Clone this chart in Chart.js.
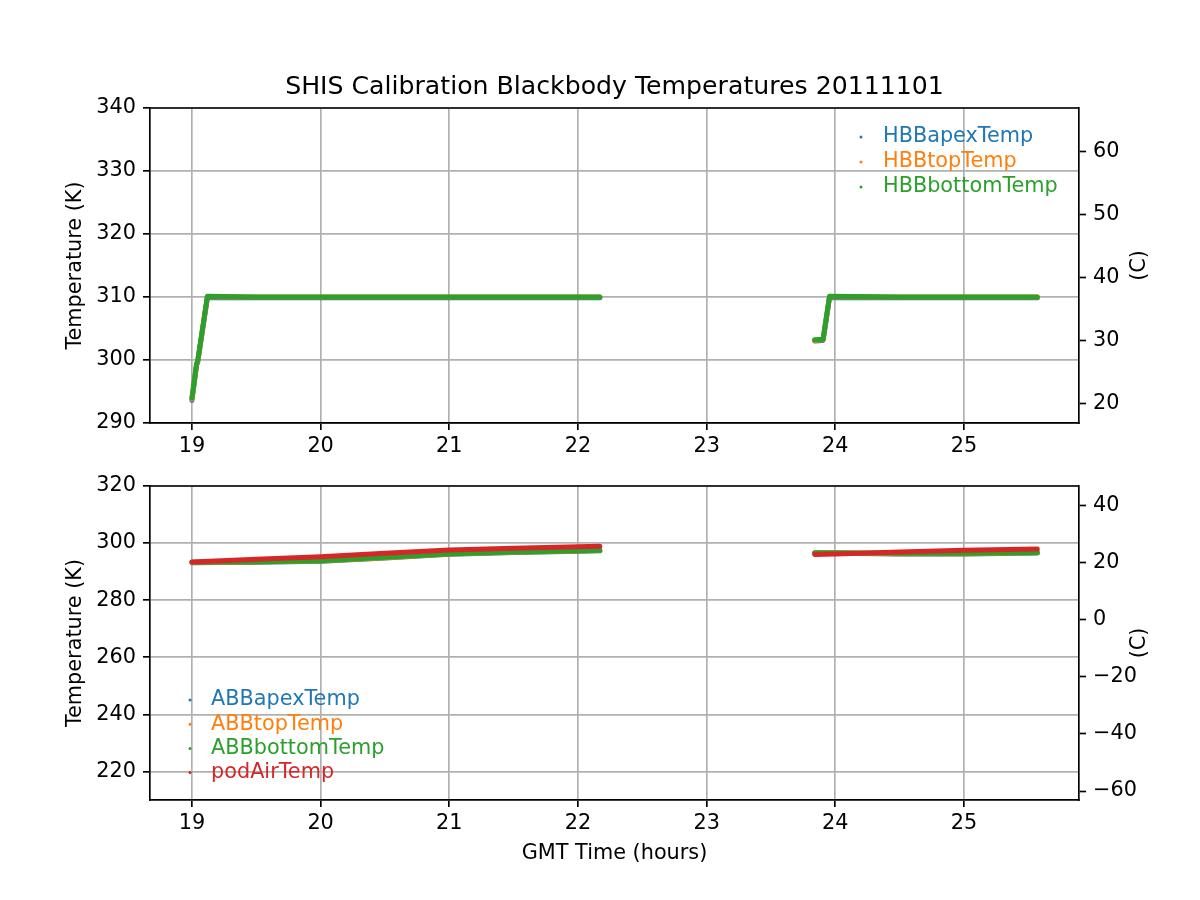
<!DOCTYPE html>
<html><head><meta charset="utf-8">
<script src="https://cdn.jsdelivr.net/npm/chart.js@4.4.0/dist/chart.umd.min.js"></script>
<style>
body{margin:0;background:#fff;width:1200px;height:900px;position:relative;overflow:hidden}
canvas{position:absolute;left:0}
</style></head>
<body>
<canvas id="topChart" width="1200" height="460" style="top:0"></canvas>
<canvas id="botChart" width="1200" height="440" style="top:460px"></canvas>
<script>
const chartTitle = 'SHIS Calibration Blackbody Temperatures 20111101';
const xLabel = 'GMT Time (hours)';
const yLabelK = 'Temperature (K)';
const yLabelC = '(C)';
const xTicks = [19, 20, 21, 22, 23, 24, 25];

// Upper panel: hot blackbody
const hbbLabels = ['HBBapexTemp', 'HBBtopTemp', 'HBBbottomTemp'];
const hbbTime   = [19.000, 19.036, 19.045, 19.120, 19.500, 20.000, 20.500, 21.000, 21.500, 22.000, 22.170, 23.000, 23.840, 23.905, 23.955, 24.500, 25.000, 25.570];
const hbbApex   = [293.6, 299.2, 299.7, 309.9, 309.9, 309.9, 309.9, 309.9, 309.9, 309.9, 309.9, null, 303.0, 303.1, 309.9, 309.9, 309.9, 309.9];
const hbbTop    = [293.8, 299.3, 299.8, 310.0, 310.0, 310.0, 310.0, 310.0, 310.0, 310.0, 310.0, null, 303.1, 303.2, 310.0, 310.0, 310.0, 310.0];
const hbbBottom = [294.0, 299.4, 299.9, 310.1, 310.0, 310.0, 310.0, 310.0, 310.0, 310.0, 310.0, null, 303.2, 303.3, 310.1, 310.0, 310.0, 310.0];

// Lower panel: ambient blackbody and pod air
const abbLabels = ['ABBapexTemp', 'ABBtopTemp', 'ABBbottomTemp', 'podAirTemp'];
const abbTime   = [19.00, 19.50, 20.00, 20.50, 21.00, 21.50, 22.00, 22.17, 23.00, 23.84, 24.00, 24.50, 25.00, 25.57];
const abbApex   = [293.1, 293.3, 293.6, 294.8, 296.1, 296.7, 297.1, 297.3, null, 296.4, 296.4, 296.2, 296.2, 296.5];
const abbTop    = [293.2, 293.4, 293.7, 294.9, 296.2, 296.8, 297.2, 297.4, null, 296.5, 296.5, 296.3, 296.3, 296.6];
const abbBottom = [293.3, 293.5, 293.8, 295.0, 296.3, 296.9, 297.3, 297.5, null, 296.6, 296.6, 296.4, 296.4, 296.7];
const podAir    = [293.4, 294.3, 295.2, 296.4, 297.6, 298.2, 298.7, 298.9, null, 296.0, 296.2, 296.9, 297.5, 297.9];

const colors = ['#1f77b4', '#ff7f0e', '#2ca02c', '#d62728'];
const FONT = '"DejaVu Sans"';
const FS = 20.8;
Chart.defaults.font.family = FONT;
Chart.defaults.font.size = FS;
Chart.defaults.color = '#000';

function pts(t, v) { return t.map((x, i) => ({x: x, y: v[i]})); }
function ds(label, t, v, i, n) {
  return {label: label, data: pts(t, v), borderColor: colors[i], backgroundColor: colors[i],
    borderWidth: 5, pointRadius: 0, tension: 0, spanGaps: false,
    borderCapStyle: 'round', borderJoinStyle: 'round', order: n - i};
}

const decor = {
  id: 'decor',
  afterDraw(chart, args, o) {
    const {ctx, chartArea: a} = chart;
    ctx.save();
    ctx.strokeStyle = '#000'; ctx.lineWidth = 1.67;
    ctx.beginPath(); ctx.moveTo(a.left, a.top); ctx.lineTo(a.right, a.top); ctx.stroke();
    ctx.font = FS + 'px ' + FONT;
    ctx.fillStyle = '#000';
    ctx.save();
    ctx.translate(1140, (a.top + a.bottom) / 2);
    ctx.rotate(-Math.PI / 2);
    ctx.textAlign = 'center'; ctx.textBaseline = 'middle';
    ctx.fillText(yLabelC, 0, 0);
    ctx.restore();
    ctx.textAlign = 'left'; ctx.textBaseline = 'middle';
    chart.data.datasets.forEach((d, i) => {
      const y = o.legendY + i * o.rowH;
      ctx.fillStyle = d.borderColor;
      ctx.beginPath(); ctx.arc(o.dotX, y, 1.5, 0, Math.PI * 2); ctx.fill();
      ctx.fillText(d.label, o.textX, y);
    });
    if (o.title) {
      ctx.fillStyle = '#000';
      ctx.font = '25.2px ' + FONT;
      ctx.textAlign = 'center';
      ctx.fillText(o.title, (a.left + a.right) / 2, 87);
    }
    ctx.restore();
  }
};

function minus(v) { return String(v).replace('-', '\u2212'); }
function stepTicks(s, step) {
  const out = [];
  for (let v = Math.ceil(s.min / step) * step; v <= s.max + 1e-9; v += step) out.push({value: Math.round(v * 1000) / 1000});
  s.ticks = out;
}

function makeChart(id, datasets, cfg) {
  const gridCommon = {color: '#b0b0b0', lineWidth: 1.67, tickLength: 7, tickColor: '#000', tickWidth: 1.67};
  const border = {color: '#000', width: 1.67};
  return new Chart(document.getElementById(id), {
    type: 'line',
    data: {datasets: datasets},
    plugins: [decor],
    options: {
      responsive: false, animation: false, devicePixelRatio: 1,
      layout: {padding: {top: cfg.padTop, left: 0, right: 0, bottom: 0}},
      plugins: {legend: {display: false}, tooltip: {enabled: false},
        decor: {legendY: cfg.legendY, rowH: cfg.rowH, dotX: cfg.dotX, textX: cfg.textX, title: cfg.title}},
      scales: {
        x: {type: 'linear', min: 18.674, max: 25.894,
          afterBuildTicks: s => { s.ticks = xTicks.map(v => ({value: v})); },
          ticks: {padding: 4, maxRotation: 0, callback: v => String(v)},
          grid: gridCommon, border: border,
          title: {display: cfg.xTitle, text: xLabel, padding: {top: 0, bottom: 34}},
          afterFit: s => { s.height = cfg.xH; }},
        y: {type: 'linear', position: 'left', min: cfg.kMin, max: cfg.kMax,
          afterBuildTicks: s => stepTicks(s, cfg.step),
          ticks: {padding: 7},
          grid: gridCommon, border: border,
          title: {display: true, text: yLabelK, padding: {top: 63, bottom: 0}},
          afterFit: s => { s.width = 150; }},
        yC: {type: 'linear', position: 'right', min: cfg.kMin - 273.15, max: cfg.kMax - 273.15,
          afterBuildTicks: s => stepTicks(s, cfg.stepC),
          ticks: {padding: 7, callback: v => minus(Math.round(v))},
          grid: {drawOnChartArea: false, tickLength: 7, tickColor: '#000', tickWidth: 1.67},
          border: border,
          afterFit: s => { s.width = 121; }}
      }
    }
  });
}

makeChart('topChart', [
  ds(hbbLabels[0], hbbTime, hbbApex, 0, 3),
  ds(hbbLabels[1], hbbTime, hbbTop, 1, 3),
  ds(hbbLabels[2], hbbTime, hbbBottom, 2, 3)
], {padTop: 108, xH: 37, kMin: 290, kMax: 340, step: 10, stepC: 10, xTitle: false,
    legendY: 137, rowH: 25, dotX: 861, textX: 883, title: chartTitle});

makeChart('botChart', [
  ds(abbLabels[0], abbTime, abbApex, 0, 4),
  ds(abbLabels[1], abbTime, abbTop, 1, 4),
  ds(abbLabels[2], abbTime, abbBottom, 2, 4),
  ds(abbLabels[3], abbTime, podAir, 3, 4)
], {padTop: 26, xH: 100, kMin: 210, kMax: 320, step: 20, stepC: 20, xTitle: true,
    legendY: 700 - 460, rowH: 24.2, dotX: 190, textX: 211, title: null});
</script>
</body></html>
